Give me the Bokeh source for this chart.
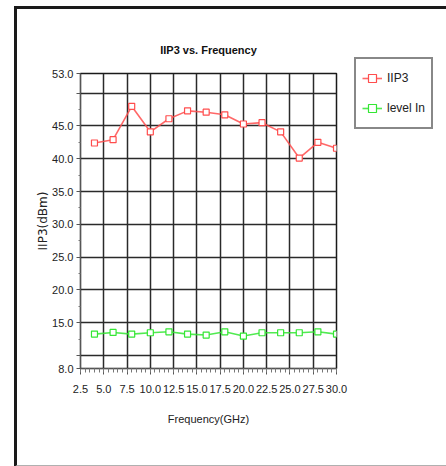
from bokeh.plotting import figure
from bokeh.models import FixedTicker, Legend, LegendItem, Range1d
from bokeh.embed import file_html
from bokeh.resources import INLINE

freq = [4, 6, 8, 10, 12, 14, 16, 18, 20, 22, 24, 26, 28, 30]
iip3 = [42.4, 42.9, 48.0, 44.1, 46.1, 47.3, 47.1, 46.7, 45.3, 45.5, 44.1, 40.1, 42.5, 41.6]
level_in = [13.25, 13.5, 13.25, 13.45, 13.6, 13.25, 13.1, 13.6, 12.95, 13.45, 13.45, 13.45, 13.6, 13.25]

y_ticks = [8, 10, 15, 20, 25, 30, 35, 40, 45, 50, 53]
y_minor = [12.5, 17.5, 22.5, 27.5, 32.5, 37.5, 42.5, 47.5]
x_ticks = [2.5, 5.0, 7.5, 10.0, 12.5, 15.0, 17.5, 20.0, 22.5, 25.0, 27.5, 30.0]

FONT = "Liberation Sans"

p = figure(width=429, height=456, output_backend="svg", toolbar_location=None,
           x_range=Range1d(2.5, 30.0), y_range=Range1d(8, 53),
           frame_width=256, frame_height=295,
           min_border_left=63, min_border_top=64, min_border_bottom=97, min_border_right=110,
           title="IIP3 vs. Frequency",
           styles={"border-top": "3px solid #1a1a1a", "border-left": "3px solid #1a1a1a",
                   "border-bottom": "2px solid #b0b0b0",
                   "margin-left": "14px", "margin-top": "6px"})

p.title.align = "center"
p.title.text_font = FONT
p.title.text_font_size = "11px"
p.title.text_font_style = "bold"
p.title.text_color = "#111111"
p.title.standoff = 36

p.outline_line_color = "#1a1a1a"
p.outline_line_width = 1.5

# axes
p.xaxis.ticker = FixedTicker(ticks=x_ticks, minor_ticks=[v / 2 for v in range(5, 61)])
p.xaxis.major_label_overrides = {v: f"{v:.1f}" for v in x_ticks}
p.yaxis.ticker = FixedTicker(ticks=y_ticks, minor_ticks=y_minor)
labels = {v: f"{v:.1f}" for v in y_ticks}
labels[10] = ""
labels[50] = ""
p.yaxis.major_label_overrides = labels

for ax in (p.xaxis[0], p.yaxis[0]):
    ax.axis_line_color = "#555555"
    ax.major_tick_line_color = "#555555"
    ax.minor_tick_line_color = "#777777"
    ax.major_label_text_font = FONT
    ax.major_label_text_font_size = "11px"
    ax.major_label_text_color = "#222222"
    ax.axis_label_text_font_style = "normal"
    ax.axis_label_text_color = "#222222"

p.xaxis.major_tick_out = 6
p.xaxis.major_tick_in = 0
p.xaxis.minor_tick_out = 4
p.xaxis.minor_tick_in = 0
p.yaxis.major_tick_out = 4
p.yaxis.major_tick_in = 0
p.yaxis.minor_tick_out = 2
p.yaxis.minor_tick_in = 0
p.xaxis.major_label_standoff = 10
p.yaxis.major_label_standoff = 3

p.xaxis.axis_label = "Frequency(GHz)"
p.xaxis.axis_label_text_font = FONT
p.xaxis.axis_label_text_font_size = "11px"
p.xaxis.axis_label_standoff = 17
p.yaxis.axis_label = "IIP3(dBm)"
p.yaxis.axis_label_text_font = "DejaVu Sans"
p.yaxis.axis_label_text_font_size = "12px"
p.yaxis.axis_label_standoff = -1

# grid
p.xgrid.ticker = FixedTicker(ticks=x_ticks)
p.ygrid.ticker = FixedTicker(ticks=[10, 15, 20, 25, 30, 35, 40, 45, 50])
for g in (p.xgrid[0], p.ygrid[0]):
    g.grid_line_color = "#2a2a2a"
    g.grid_line_width = 1.5
    g.grid_line_alpha = 1.0

red = "#ff4d4d"
green = "#33e633"
r1 = p.line(freq, iip3, line_color=red, line_width=1.6, line_alpha=0.85)
m1 = p.scatter(freq, iip3, marker="square", size=6, fill_color="white", line_color=red, line_width=1.2)
r2 = p.line(freq, level_in, line_color=green, line_width=1.6, line_alpha=0.85)
m2 = p.scatter(freq, level_in, marker="square", size=6, fill_color="white", line_color=green, line_width=1.2)

legend = Legend(items=[LegendItem(label="IIP3", renderers=[r1, m1]),
                       LegendItem(label="level In", renderers=[r2, m2])],
                location=(18, 239))
legend.border_line_color = "#111111"
legend.border_line_width = 2
legend.background_fill_color = "white"
legend.background_fill_alpha = 1.0
legend.label_text_font = FONT
legend.label_text_font_size = "12px"
legend.label_text_color = "#222222"
legend.glyph_width = 20
legend.glyph_height = 26
legend.spacing = 4
legend.padding = 6
legend.margin = 0
p.add_layout(legend, "right")

open("out.html", "w").write(file_html(p, INLINE))
